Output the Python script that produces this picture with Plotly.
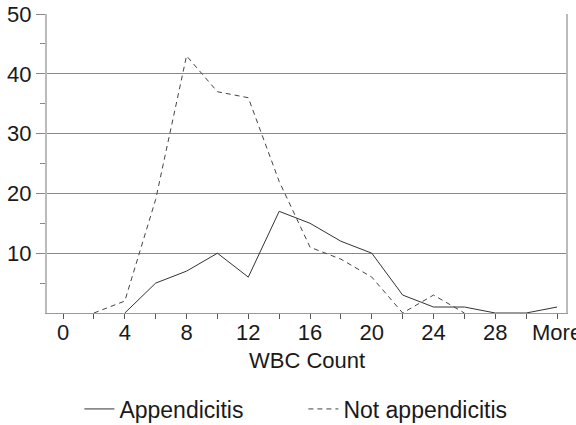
import plotly.graph_objects as go

bins = ["0", "2", "4", "6", "8", "10", "12", "14", "16", "18", "20",
        "22", "24", "26", "28", "30", "More"]
appendicitis = [None, None, 0, 5, 7, 10, 6, 17, 15, 12, 10, 3, 1, 1, 0, 0, 1]
not_appendicitis = [None, 0, 2, 19, 43, 37, 36, 22, 11, 9, 6, 0, 3, 0, None, None, None]
y_ticks = [10, 20, 30, 40, 50]
y_minor = [5, 15, 25, 35, 45]

FONT = "Liberation Sans, Arial, sans-serif"
TEXT = "#1a1a1a"
SIZE = 22

fig = go.Figure()
fig.add_trace(go.Scatter(
    x=bins, y=appendicitis, mode="lines", name="Appendicitis",
    line=dict(color="#333333", width=1),
))
fig.add_trace(go.Scatter(
    x=bins, y=not_appendicitis, mode="lines", name="Not appendicitis",
    line=dict(color="#444444", width=1, dash="5px,4px"),
))

# label every other bin, tick every bin
tick_text = [b if i % 2 == 0 else "" for i, b in enumerate(bins)]

fig.update_xaxes(
    type="category",
    categoryorder="array",
    categoryarray=bins,
    range=[-0.52, 16.29],
    tickmode="array",
    tickvals=bins,
    ticktext=tick_text,
    ticks="outside",
    ticklen=5,
    tickcolor="#555555",
    ticklabelstandoff=-5,
    showline=True,
    linecolor="#999999",
    linewidth=1,
    showgrid=False,
    zeroline=False,
    automargin=False,
    ticklabeloverflow="allow",
    tickfont=dict(size=SIZE, color=TEXT, family=FONT),
)
fig.update_yaxes(
    range=[0, 50],
    tickmode="array",
    tickvals=y_ticks,
    ticks="outside",
    ticklen=9,
    tickcolor="#888888",
    minor=dict(tickmode="array", tickvals=y_minor, ticks="outside",
               ticklen=5, tickcolor="#888888", showgrid=False),
    showline=True,
    linecolor="#bbbbbb",
    linewidth=2,
    mirror=True,
    showgrid=True,
    gridcolor="#888888",
    gridwidth=1,
    zeroline=False,
    automargin=False,
    tickfont=dict(size=SIZE, color=TEXT, family=FONT),
)

fig.add_annotation(
    text="WBC Count", xref="paper", yref="paper", x=0.5, y=-0.1605,
    xanchor="center", yanchor="middle", showarrow=False,
    font=dict(size=SIZE, color=TEXT, family=FONT),
)

fig.update_layout(
    width=576,
    height=425,
    plot_bgcolor="white",
    paper_bgcolor="white",
    margin=dict(l=47, r=10, t=14, b=112, autoexpand=False),
    showlegend=True,
    legend=dict(
        orientation="h", x=0.0624, xanchor="left", y=-0.321, yanchor="middle",
        font=dict(size=23, color=TEXT, family=FONT),
        entrywidth=179, entrywidthmode="pixels",
        bgcolor="rgba(0,0,0,0)",
    ),
    font=dict(family=FONT, color=TEXT),
)

# page body margin would shift the 576x425 figure
fig.write_html(
    "out.html",
    config={"displayModeBar": False},
    post_script="document.body.style.margin='0';",
)
